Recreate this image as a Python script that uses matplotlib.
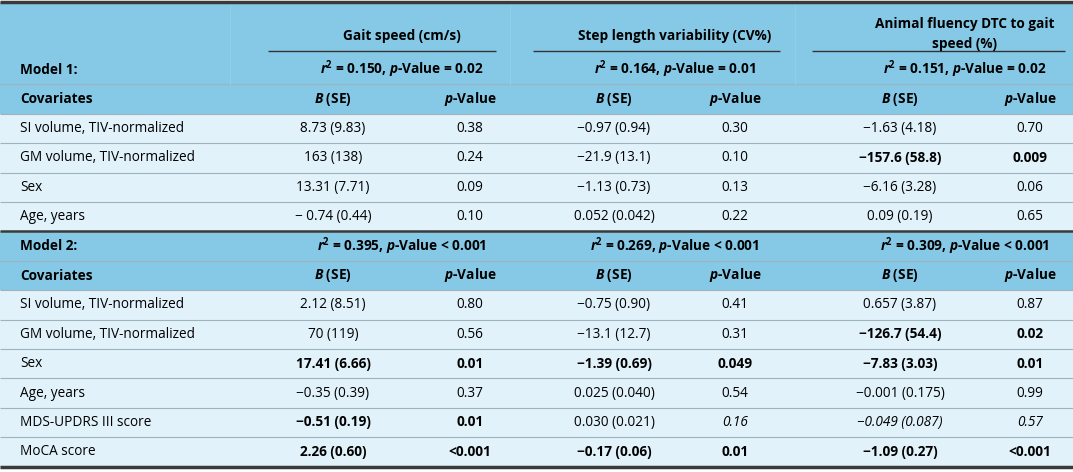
import matplotlib
matplotlib.use("Agg")
import matplotlib.pyplot as plt
from matplotlib.patches import Rectangle

plt.rcParams['font.family'] = ['Open Sans', 'DejaVu Sans']
plt.rcParams['mathtext.fontset'] = 'custom'
plt.rcParams['mathtext.rm'] = 'Open Sans'
plt.rcParams['mathtext.it'] = 'Open Sans:italic'
plt.rcParams['mathtext.bf'] = 'Open Sans:bold'
plt.rcParams['mathtext.bfit'] = 'Open Sans:bold:italic'

outcomes = ["Gait speed (cm/s)", "Step length variability (CV%)", "Animal fluency DTC to gait\nspeed (%)"]
model1_fit = [("0.150", "= 0.02"), ("0.164", "= 0.01"), ("0.151", "= 0.02")]
model2_fit = [("0.395", "< 0.001"), ("0.269", "< 0.001"), ("0.309", "< 0.001")]
covariates1 = ["SI volume, TIV-normalized", "GM volume, TIV-normalized", "Sex", "Age, years"]
values1 = [
    ["8.73 (9.83)", "0.38", "\u22120.97 (0.94)", "0.30", "\u22121.63 (4.18)", "0.70"],
    ["163 (138)", "0.24", "\u221221.9 (13.1)", "0.10", "\u2212157.6 (58.8)", "0.009"],
    ["13.31 (7.71)", "0.09", "\u22121.13 (0.73)", "0.13", "\u22126.16 (3.28)", "0.06"],
    ["\u2212 0.74 (0.44)", "0.10", "0.052 (0.042)", "0.22", "0.09 (0.19)", "0.65"],
]
style1 = ["nnnnnn", "nnnnbb", "nnnnnn", "nnnnnn"]
covariates2 = ["SI volume, TIV-normalized", "GM volume, TIV-normalized", "Sex", "Age, years",
               "MDS-UPDRS III score", "MoCA score"]
values2 = [
    ["2.12 (8.51)", "0.80", "\u22120.75 (0.90)", "0.41", "0.657 (3.87)", "0.87"],
    ["70 (119)", "0.56", "\u221213.1 (12.7)", "0.31", "\u2212126.7 (54.4)", "0.02"],
    ["17.41 (6.66)", "0.01", "\u22121.39 (0.69)", "0.049", "\u22127.83 (3.03)", "0.01"],
    ["\u22120.35 (0.39)", "0.37", "0.025 (0.040)", "0.54", "\u22120.001 (0.175)", "0.99"],
    ["\u22120.51 (0.19)", "0.01", "0.030 (0.021)", "0.16", "\u22120.049 (0.087)", "0.57"],
    ["2.26 (0.60)", "<0.001", "\u22120.17 (0.06)", "0.01", "\u22121.09 (0.27)", "<0.001"],
]
style2 = ["nnnnnn", "nnnnbb", "bbbbbb", "nnnnnn", "bbniii", "bbbbbb"]

W, H = 1073, 472
fig = plt.figure(figsize=(W/100, H/100), dpi=100)
ax = fig.add_axes([0, 0, 1, 1])
ax.set_xlim(0, W); ax.set_ylim(H, 0); ax.axis('off')

HEAD = "#86C9E7"
BODY = "#E1F2FA"
LINE = "#9FB3BD"
FS = 9.8
rowh = 29.4
colx = [333, 470, 614, 735, 900, 1030]
sep_x = [230, 510, 795]

def rect(y0, y1, c):
    ax.add_patch(Rectangle((0, y0), W, y1 - y0, color=c, lw=0))

def hline(y, lw=0.8, c=LINE, x0=0, x1=W):
    ax.plot([x0, x1], [y, y], color=c, lw=lw, solid_capstyle='butt')

def block(ytop, label, fits, covs, vals, styles):
    rect(ytop, ytop + rowh, HEAD)
    ax.text(20, ytop + rowh/2, label, ha='left', va='center', fontsize=FS, fontweight='bold')
    for i, (r, p) in enumerate(fits):
        cx = (colx[2*i] + colx[2*i+1]) / 2
        ax.text(cx, ytop + rowh/2, r"$\mathbfit{r}^{\mathbf{2}}$" + f" = {r}, " + r"$\mathbfit{p}$" + f"-Value {p}",
                ha='center', va='center', fontsize=FS, fontweight='bold')
    y = ytop + rowh
    hline(y)
    rect(y, y + rowh, HEAD)
    ax.text(20, y + rowh/2, "Covariates", ha='left', va='center', fontsize=FS, fontweight='bold')
    for i in range(3):
        ax.text(colx[2*i], y + rowh/2, r"$\mathbfit{B}$" + " (SE)", ha='center', va='center', fontsize=FS, fontweight='bold')
        ax.text(colx[2*i+1], y + rowh/2, r"$\mathbfit{p}$" + "-Value", ha='center', va='center', fontsize=FS, fontweight='bold')
    y += rowh
    hline(y)
    for cov, row, st in zip(covs, vals, styles):
        rect(y, y + rowh, BODY)
        ax.text(20, y + rowh/2, cov, ha='left', va='center', fontsize=FS)
        for j, v in enumerate(row):
            kw = {}
            if st[j] == 'b': kw['fontweight'] = 'bold'
            if st[j] == 'i': kw['fontstyle'] = 'italic'
            ax.text(colx[j], y + rowh/2, v, ha='center', va='center', fontsize=FS, **kw)
        y += rowh
        hline(y)
    return y

rect(2, 56, HEAD)
for i, t in enumerate(outcomes):
    cx = (colx[2*i] + colx[2*i+1]) / 2
    ty = 36 if "\n" not in t else 34
    ax.text(cx, ty, t, ha='center', va='center', fontsize=FS, fontweight='bold', linespacing=1.6)
for x0, x1 in [(268, 496), (533, 780), (812, 1065)]:
    hline(51, lw=1.0, c="#333333", x0=x0, x1=x1)

y = block(55, "Model 1:", model1_fit, covariates1, values1, style1)
y_mid = y
for sx in sep_x:
    ax.plot([sx, sx], [2, 84], color="#93CFEA", lw=0.6)
y = block(y, "Model 2:", model2_fit, covariates2, values2, style2)

hline(1.5, lw=2.5, c="#3a3a3a")
hline(y_mid, lw=1.8, c="#3a3a3a")
hline(y, lw=2.5, c="#3a3a3a")

fig.savefig("out.png", dpi=100)
